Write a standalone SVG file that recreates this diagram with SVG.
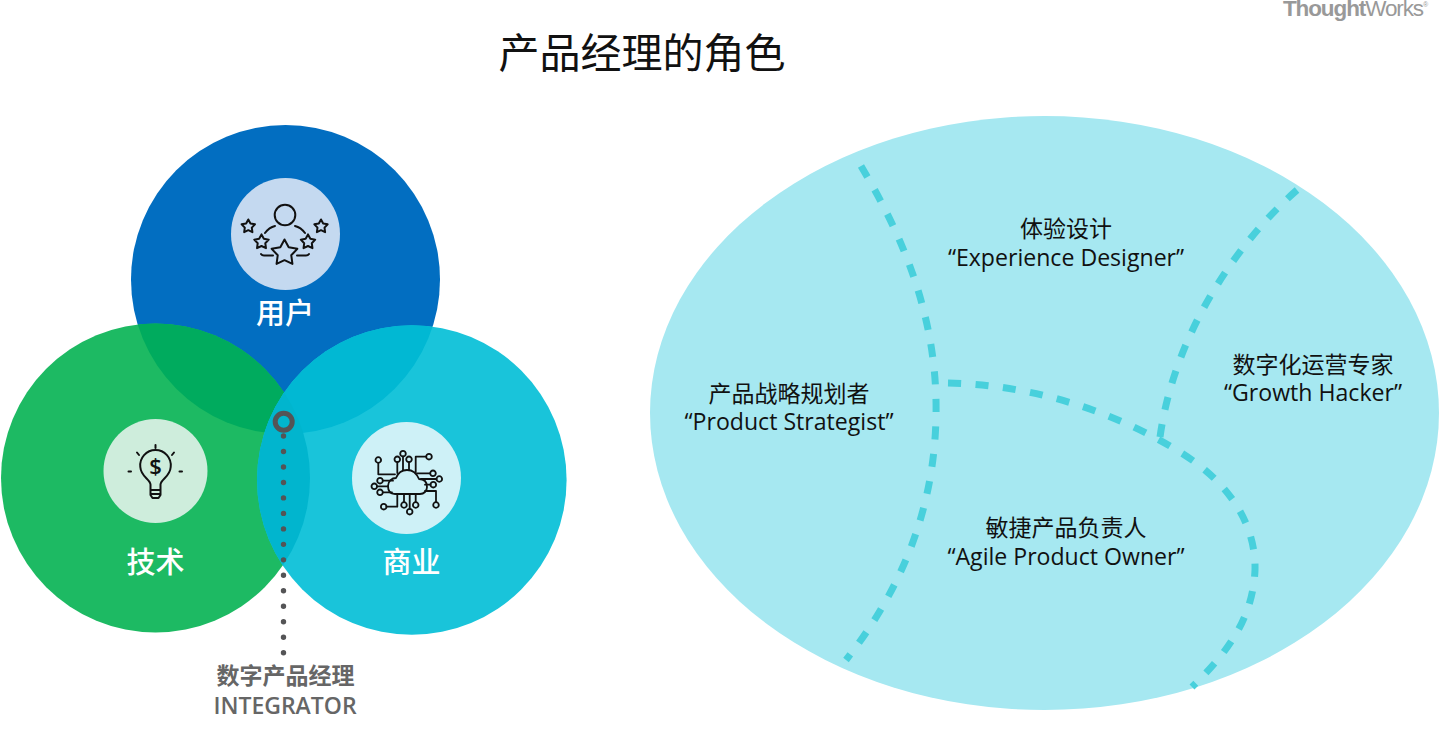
<svg xmlns="http://www.w3.org/2000/svg" width="1440" height="729" viewBox="0 0 1440 729">
<style>
text{font-family:"Open Sans","Noto Sans CJK SC",sans-serif;text-anchor:middle}
.lab{font-size:23px;fill:#111}
.en{font-size:23.1px;fill:#111}
.w{font-size:29px;fill:#fff;font-weight:500}
.ic{fill:none;stroke:#111;stroke-width:2;stroke-linecap:round;stroke-linejoin:round}
.div{fill:none;stroke:#48D0DC;stroke-width:7;stroke-dasharray:13 14.5}
</style>
<defs>
<polygon id="star" points="0,-10 3.1,-4.3 9.51,-3.09 5,1.65 5.88,8.09 0,5.3 -5.88,8.09 -5,1.65 -9.51,-3.09 -3.1,-4.3" vector-effect="non-scaling-stroke"/>
<circle id="n" r="2.8"/>
<clipPath id="cb"><circle cx="285.5" cy="279.5" r="154.5"/></clipPath>
<clipPath id="cg"><circle cx="155.5" cy="478" r="154.5"/></clipPath>
</defs>
<rect width="1440" height="729" fill="#fff"/>
<g id="logo"><text x="1355" y="16" style="font-family:'Liberation Sans',sans-serif;font-size:22.5px;fill:#999;letter-spacing:-1.1px"><tspan font-weight="700">Thought</tspan><tspan>Works</tspan><tspan font-size="7" dy="-9">®</tspan></text></g>
<text id="title" x="642" y="68" style="font-size:41px;fill:#111">产品经理的角色</text>
<g id="venn">
<circle id="circle-user" cx="285.5" cy="279.5" r="154.5" fill="#026EC1"/>
<circle id="circle-tech" cx="155.5" cy="478" r="154.5" fill="#1DBA63"/>
<circle cx="155.5" cy="478" r="154.5" fill="#00AB5E" clip-path="url(#cb)"/>
<circle id="circle-biz" cx="411.800" cy="480" r="154.8" fill="#19C4DA"/>
<circle cx="411.800" cy="480" r="154.8" fill="#01B8D3" clip-path="url(#cb)"/>
<circle cx="411.800" cy="480" r="154.8" fill="#01B5CE" clip-path="url(#cg)"/>
</g>
<ellipse id="roles-bg" cx="1044.500" cy="413" rx="394.500" ry="297" fill="#A6E8F1"/>
<g id="connectors">
<path d="M283.5,436 V653" fill="none" stroke="#545456" stroke-width="5.4" stroke-linecap="round" stroke-dasharray="0 15.48"/>
<path class="div" d="M861,166 C893,220 934,300 936,400 C938,500 905,585 846,660"/>
<path class="div" d="M948,383 C1040,385 1120,415 1180,452 C1235,486 1256,530 1255,570 C1253,620 1225,655 1192,687"/>
<path class="div" d="M1297,190 C1240,240 1175,330 1160,437"/>
</g>
<g id="node-user">
<ellipse cx="285.5" cy="234" rx="54.5" ry="56" fill="#C4D9F0"/>
<g class="ic">
<circle cx="285" cy="215" r="10.3"/>
<path d="M265,233 C268,229 271,227 275,226 M295,226 C299,227 302,229 305,233 M261,254 Q262,255.500 264,255.500 H273 M297,255.500 H306 Q308,255.500 309,254"/>
<use href="#star" transform="translate(284.500,253) scale(1.350)"/>
<use href="#star" transform="translate(261.500,242) scale(.76)"/>
<use href="#star" transform="translate(308,242) scale(.76)"/>
<use href="#star" transform="translate(248.300,226.500) scale(.7)"/>
<use href="#star" transform="translate(321,226.500) scale(.7)"/>
</g>
<text class="w" x="285" y="324">用户</text>
</g>
<g id="node-tech">
<circle cx="155.500" cy="471" r="52" fill="#CEEDDC"/>
<g class="ic">
<path d="M150.500,490 V484.500 C150,479 141,477 140.300,467 A15.300,15.300 0 1 1 170.700,467 C170,477 161,479 160.500,484.500 V490 Z M150.500,490 V495 L152.500,498 H158.500 L160.500,495 V490 M150.500,494 H160.500 M155.500,445 V448 M137,452.500 L139,455 M174,452.500 L172,455 M128.500,471.500 H131 M179.500,471.500 H182"/>
</g>
<text x="155.500" y="474" style="font-size:22px;fill:#111;font-weight:600">$</text>
<text class="w" x="155.500" y="573">技术</text>
</g>
<g id="node-biz">
<ellipse cx="406.500" cy="478" rx="54.500" ry="56" fill="#CEF1F7"/>
<g class="ic" style="stroke-width:1.800">
<path d="M395,494 C389,494 388,489 388,486 C388,481 392,478 396,478 C398,473 402,470 407,470 C413,470 417,474 419,479 C424,479 427,482 427,487 C427,491 424,494 420,494 Z"/>
<path d="M378.300,463 V474.300 H395 M397.300,462 V473 M403,456.500 V470 M409,462 V470 M426,456.700 H415.700 V472 M430,473.300 H417 M436.500,479 H421 M430.500,484.700 H425 M436,502 V491 H425 M415.700,502 V494 M409.700,508.900 V494 M404,502 V494 M386.500,506.700 H397.300 V494 M383,480.700 H393 M377,486.300 H388 M383,492.300 H392"/>
<use href="#n" x="378.300" y="460"/><use href="#n" x="397.300" y="459.300"/><use href="#n" x="403" y="453.700"/><use href="#n" x="409" y="459.300"/><use href="#n" x="429" y="456.700"/><use href="#n" x="433" y="473.300"/><use href="#n" x="439.300" y="479"/><use href="#n" x="433.300" y="484.700"/><use href="#n" x="436" y="505"/><use href="#n" x="415.700" y="505"/><use href="#n" x="409.700" y="511.700"/><use href="#n" x="404" y="505"/><use href="#n" x="383.700" y="506.700"/><use href="#n" x="380" y="480.700"/><use href="#n" x="374.300" y="486.300"/><use href="#n" x="380" y="492.300"/>
</g>
<text class="w" x="411.500" y="573">商业</text>
</g>
<g id="node-integrator">
<circle cx="283.700" cy="421.800" r="8.500" fill="none" stroke="#545456" stroke-width="5"/>
<text x="285.500" y="684" style="font-size:23px;fill:#666;font-weight:600">数字产品经理</text>
<text x="285" y="714" style="font-size:23px;fill:#666;font-weight:600">INTEGRATOR</text>
</g>
<g id="role-strategist"><text class="lab" x="789" y="402">产品战略规划者</text><text class="en" x="789" y="430">“Product Strategist”</text></g>
<g id="role-experience"><text class="lab" x="1066" y="237">体验设计</text><text class="en" x="1066" y="266">“Experience Designer”</text></g>
<g id="role-growth"><text class="lab" x="1313" y="373">数字化运营专家</text><text class="en" x="1313" y="401">“Growth Hacker”</text></g>
<g id="role-agile"><text class="lab" x="1066" y="536">敏捷产品负责人</text><text class="en" x="1066" y="565">“Agile Product Owner”</text></g>
</svg>
